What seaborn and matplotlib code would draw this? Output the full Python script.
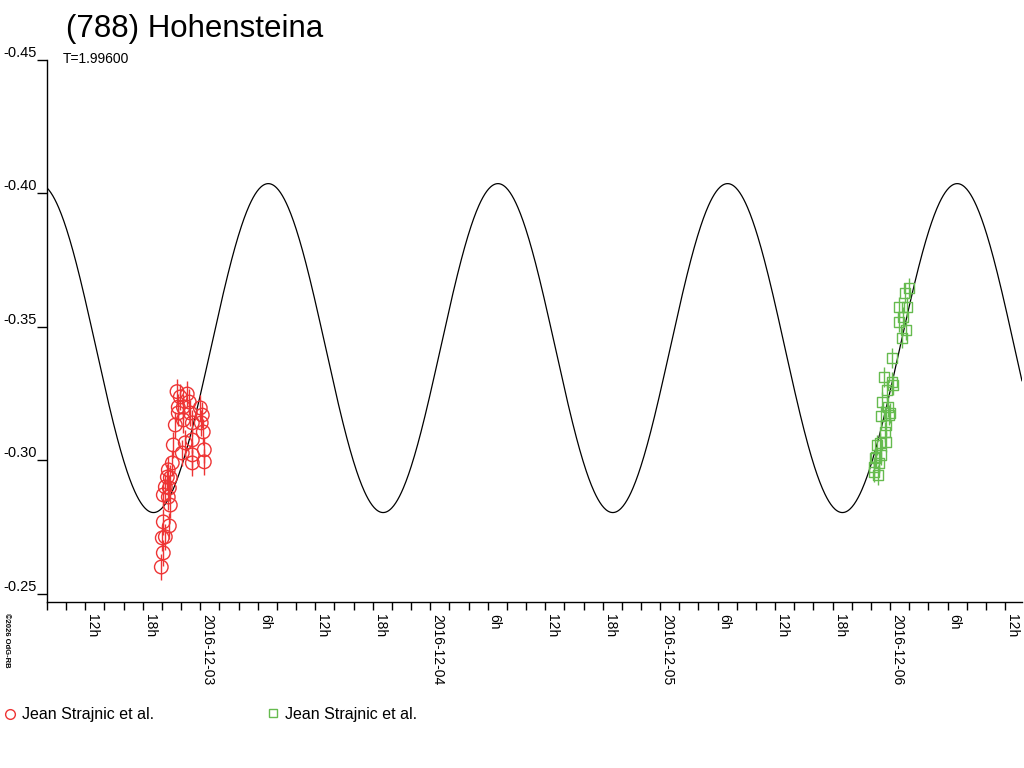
import numpy as np
import pandas as pd
import matplotlib
matplotlib.use('Agg')
import matplotlib.pyplot as plt
import matplotlib.dates as mdates
from matplotlib.lines import Line2D
import seaborn as sns

# times are hours after 2016-12-03 00:00 UT
t0 = pd.Timestamp('2016-12-03 00:00')

red_h = [-2.43, -1.36, -2.09, -1.15, -2.30, -1.77, 0.00, -2.30, -1.04, 0.21,
         -1.77, -2.61, -0.83, 0.10, 0.31, -0.83, -2.82, -1.57, 0.42, -1.88,
         -0.83, 0.42, -0.83, -2.92, -3.34, -3.44, -3.13, -3.65, -3.23, -3.86,
         -3.34, -3.13, -3.86, -3.23, -3.97, -3.65, -3.86, -4.07]
red_mag = [-0.3258, -0.3249, -0.3238, -0.3219, -0.3200, -0.3200, -0.3197, -0.3178, -0.3178, -0.3170,
           -0.3152, -0.3133, -0.3141, -0.3141, -0.3107, -0.3077, -0.3058, -0.3066, -0.3040, -0.3028,
           -0.3021, -0.2995, -0.2991, -0.2991, -0.2965, -0.2938, -0.2935, -0.2901, -0.2897, -0.2871,
           -0.2863, -0.2833, -0.2770, -0.2755, -0.2710, -0.2714, -0.2654, -0.2601]
red_err = 0.0048

green_h = [73.98, 73.57, 72.94, 73.77, 73.36, 72.94, 73.67, 73.25, 72.21, 71.38,
           72.21, 72.31, 71.69, 71.17, 71.79, 71.06, 71.90, 71.58, 71.48, 71.58,
           70.65, 70.96, 71.06, 70.54, 70.85, 70.33, 70.44, 70.33, 70.75, 72.00]
green_mag = [-0.3646, -0.3627, -0.3575, -0.3575, -0.3538, -0.3519, -0.3489, -0.3459, -0.3384, -0.3313,
             -0.3294, -0.3283, -0.3264, -0.3219, -0.3200, -0.3167, -0.3171, -0.3133, -0.3107, -0.3069,
             -0.3058, -0.3066, -0.3021, -0.3013, -0.2991, -0.2976, -0.3010, -0.2957, -0.2946, -0.3178]
green_err = 0.0038

# fitted model
model_mean = -0.3421
model_amp = 0.0616
model_period_h = 23.97
model_peak_h = 7.1

x_lo_h, x_hi_h = -16.0, 85.77
yticks = [-0.45, -0.40, -0.35, -0.30, -0.25]
ytick_labels = ['-0.45', '-0.40', '-0.35', '-0.30', '-0.25']
observer = 'Jean Strajnic et al.'

RED = '#ee3434'
GREEN = '#66bb4f'

grid_h = np.linspace(x_lo_h, x_hi_h, 1500)
model = pd.DataFrame({
    'time': t0 + pd.to_timedelta(grid_h, unit='h'),
    'mag': model_mean - model_amp * np.cos(2 * np.pi * (grid_h - model_peak_h) / model_period_h),
})
red = pd.DataFrame({'time': t0 + pd.to_timedelta(red_h, unit='h'), 'mag': red_mag})
green = pd.DataFrame({'time': t0 + pd.to_timedelta(green_h, unit='h'), 'mag': green_mag})

sns.set_style('white')
plt.rcParams['font.family'] = ['Liberation Sans', 'DejaVu Sans']
plt.rcParams['text.color'] = 'black'

fig = plt.figure(figsize=(10.24, 7.68), dpi=100)
ax = fig.add_axes([47 / 1024, 166 / 768, 975 / 1024, 542 / 768])

sns.lineplot(data=model, x='time', y='mag', color='black', linewidth=0.9, ax=ax)

ax.errorbar(red['time'], red['mag'], yerr=red_err, fmt='none', ecolor=RED, elinewidth=1, zorder=3)
sns.scatterplot(data=red, x='time', y='mag', marker='o', s=95, facecolor='none',
                edgecolor=RED, linewidth=1, ax=ax, zorder=4)
ax.errorbar(green['time'], green['mag'], yerr=green_err, fmt='none', ecolor=GREEN, elinewidth=1, zorder=3)
sns.scatterplot(data=green, x='time', y='mag', marker='s', s=55, facecolor='none',
                edgecolor=GREEN, linewidth=1, ax=ax, zorder=4)

ax.set_xlim(t0 + pd.Timedelta(hours=x_lo_h), t0 + pd.Timedelta(hours=x_hi_h))
ax.set_ylim(-0.247, -0.45)
ax.set_yticks(yticks)
ax.set_yticklabels(ytick_labels)
for lab in ax.get_yticklabels():
    lab.set_va('bottom')
ax.tick_params(axis='y', left=True, direction='out', length=7.5, width=1, pad=0,
               labelsize=10.5, colors='black')

def fmt_time(x, pos=None):
    d = mdates.num2date(x)
    if d.hour == 0:
        return d.strftime('%Y-%m-%d')
    return f'{d.hour}h'

ax.xaxis.set_major_locator(mdates.HourLocator(byhour=[0, 6, 12, 18]))
ax.xaxis.set_major_formatter(plt.FuncFormatter(fmt_time))
ax.xaxis.set_minor_locator(mdates.HourLocator(interval=2))
ax.tick_params(axis='x', which='both', bottom=True, direction='out', length=6, width=1,
               colors='black')
ax.tick_params(axis='x', which='major', labelsize=10, pad=3)
for lab in ax.get_xticklabels():
    lab.set_rotation(-90)
    lab.set_ha('left')
    lab.set_va('top')

ax.set_xlabel('')
ax.set_ylabel('')
for side in ['top', 'right']:
    ax.spines[side].set_visible(False)
for side in ['left', 'bottom']:
    ax.spines[side].set_color('black')
    ax.spines[side].set_linewidth(1)

fig.text(66 / 1024, 1 - 37 / 768, '(788) Hohensteina', fontsize=22.5, va='baseline', ha='left',
         color='black')
fig.text(63 / 1024, 1 - 63 / 768, 'T=1.99600', fontsize=10, va='baseline', ha='left', color='black')
fig.text(3 / 1024, 1 - 613 / 768, '\u00a92026 OdG-RB', fontsize=5.5, rotation=-90,
         va='top', ha='left', fontweight='bold', color='black')

# legend row along the bottom
fig.add_artist(Line2D([10 / 1024], [1 - 714 / 768], marker='o', markersize=7, mfc='none',
                      mec=RED, mew=1, transform=fig.transFigure))
fig.text(22 / 1024, 1 - 719 / 768, observer, fontsize=11.5, va='baseline', ha='left', color='black')
fig.add_artist(Line2D([273 / 1024], [1 - 713 / 768], marker='s', markersize=6, mfc='none',
                      mec=GREEN, mew=1, transform=fig.transFigure))
fig.text(285 / 1024, 1 - 719 / 768, observer, fontsize=11.5, va='baseline', ha='left', color='black')

fig.savefig('out.png', dpi=100)
